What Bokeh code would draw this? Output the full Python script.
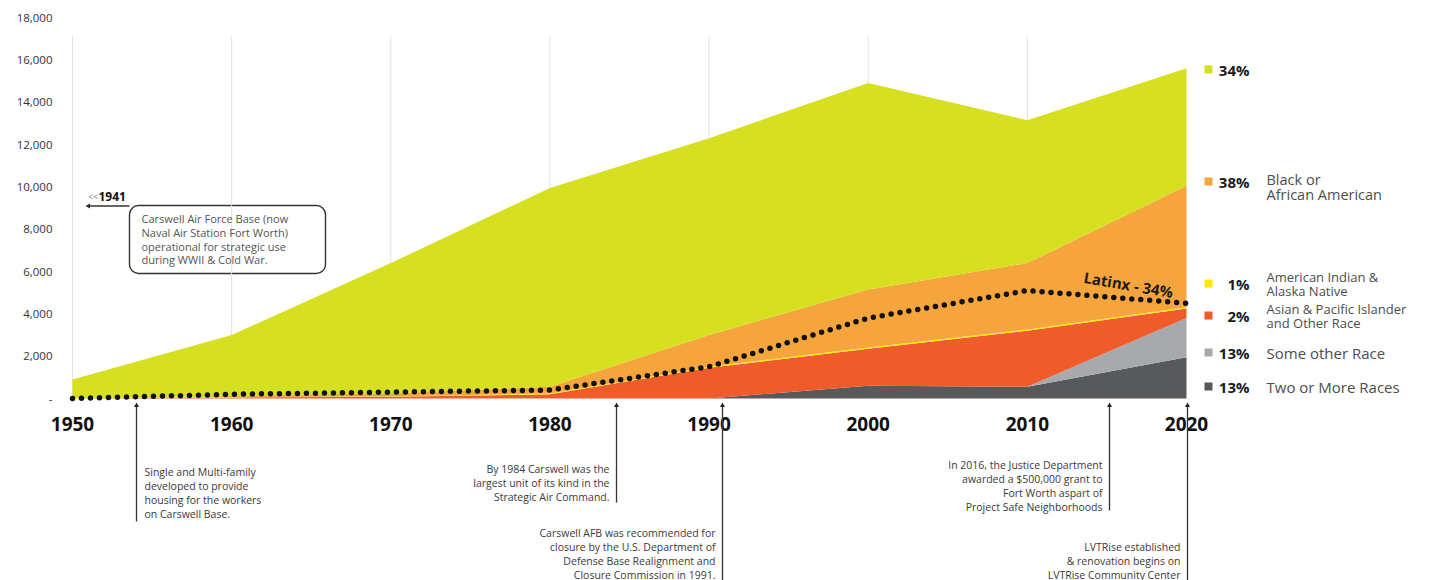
import numpy as np
from bokeh.plotting import figure
from bokeh.models import ColumnDataSource, BoxAnnotation, Range1d
from bokeh.core.properties import value
from bokeh.embed import file_html
from bokeh.resources import INLINE

# ---------------- data ----------------
years = [1950, 1960, 1970, 1980, 1990, 2000, 2010, 2020]
two_or_more = [0, 0, 0, 0, 0, 600, 550, 1950]
some_other = [0, 0, 0, 0, 0, 0, 0, 1850]
asian_other = [0, 50, 80, 200, 1450, 1750, 2650, 450]
american_indian = [0, 20, 20, 40, 50, 60, 60, 60]
black = [0, 50, 150, 310, 1500, 2740, 3140, 5740]
white = [900, 2880, 6150, 9400, 9300, 9750, 6750, 5550]
latinx = [0, 200, 300, 400, 1500, 3800, 5100, 4500]

decades = [1950, 1960, 1970, 1980, 1990, 2000, 2010, 2020]
decade_labels = ["1950", "1960", "1970", "1980", "1990", "2000", "2010", "2020"]
y_ticks = [0, 2000, 4000, 6000, 8000, 10000, 12000, 14000, 16000, 18000]
y_tick_labels = ["-", "2,000", "4,000", "6,000", "8,000", "10,000", "12,000",
                 "14,000", "16,000", "18,000"]

legend_pcts = ["34%", "38%", "1%", "2%", "13%", "13%"]
legend_names = [[], ["Black or", "African American"],
                ["American Indian &", "Alaska Native"],
                ["Asian & Pacific Islander", "and Other Race"],
                ["Some other Race"], ["Two or More Races"]]

# ---------------- styling ----------------
C_WHITE = "#d7df21"
C_BLACK = "#f5a53c"
C_AIAN = "#ffe900"
C_ASIAN = "#ef5b2a"
C_OTHER = "#a7a9ac"
C_TWO = "#58595b"
legend_colors = [C_WHITE, C_BLACK, C_AIAN, C_ASIAN, C_OTHER, C_TWO]

W, H = 1439, 580
KX = (1186 - 72) / 70.0          # px per year
KY = 381.0 / 18000.0             # px per unit


def X(px):
    return 1950 + (px - 72) / KX


def Y(px):
    return (398 - px) / KY


p = figure(width=W, height=H, output_backend="svg", toolbar_location=None,
           x_axis_location=None, y_axis_location=None,
           min_border_left=0, min_border_right=0,
           min_border_top=0, min_border_bottom=0,
           x_range=Range1d(X(0), X(W)), y_range=Range1d(Y(H), Y(0)))
p.outline_line_color = None
p.grid.visible = False
p.background_fill_color = "white"
p.border_fill_color = "white"

# y tick labels (placed on the value scale)
p.text(x=[X(52)] * len(y_ticks), y=y_ticks, text=y_tick_labels,
       text_font=value("Open Sans"), text_font_size="11.5px",
       text_color="#333333", text_align="right", text_baseline="middle")

# vertical grid lines
gx = decades[:-1]
p.segment(x0=gx, x1=gx, y0=[0] * len(gx), y1=[Y(36)] * len(gx),
          line_color="#e2e2e2", line_width=1)

# stacked areas
src = ColumnDataSource(dict(year=years, two=two_or_more, other=some_other,
                            asian=asian_other, aian=american_indian,
                            black=black, white=white))
p.varea_stack(stackers=["two", "other", "asian", "aian", "black", "white"],
              x="year", color=[C_TWO, C_OTHER, C_ASIAN, C_AIAN, C_BLACK, C_WHITE],
              source=src)

# Latinx dotted line
p.line(years, latinx, line_color="#111111", line_width=5.5,
       line_dash="0 9", line_cap="round", line_join="round")
p.text(x=[X(1128)], y=[Y(284)], text=["Latinx - 34%"], angle=-0.17,
       text_font=value("Open Sans"), text_font_style="bold",
       text_font_size="15px", text_color="#1a1a1a",
       text_align="center", text_baseline="middle")

# decade labels
p.text(x=decades, y=[Y(423)] * len(decades), text=decade_labels,
       text_font=value("Open Sans"), text_font_style="bold",
       text_font_size="19px", text_color="#111111",
       text_align="center", text_baseline="middle")

# ---------------- legend on right ----------------
leg_y = [69, 181, 283, 315, 352, 386]
p.scatter(x=[X(1208)] * 6, y=[Y(v) for v in leg_y], marker="square", size=8,
          fill_color=legend_colors, line_color=None)
p.text(x=[X(1249)] * 6, y=[Y(v) for v in leg_y], text=legend_pcts,
       text_font=value("Open Sans"), text_font_style="bold",
       text_font_size="15px", text_color="#1a1a1a",
       text_align="right", text_baseline="middle")
name_x, name_y, name_t, name_s = [], [], [], []
for cy, names in zip(leg_y, legend_names):
    if len(names) == 2:
        off = [-7, 7] if cy > 200 else [-2, 13]
        for o, n in zip(off, names):
            name_x.append(X(1266))
            name_y.append(Y(cy + o))
            name_t.append(n)
            name_s.append("13px" if cy > 200 else "14.5px")
    elif len(names) == 1:
        name_x.append(X(1266))
        name_y.append(Y(cy))
        name_t.append(names[0])
        name_s.append("15px")
p.text(x=name_x, y=name_y, text=name_t, text_font=value("Open Sans"),
       text_font_size=name_s, text_color="#4d4d4d",
       text_align="left", text_baseline="middle")

# ---------------- 1941 callout ----------------
p.add_layout(BoxAnnotation(left=X(129), right=X(325), top=Y(205), bottom=Y(273),
                           border_radius=9, fill_color=None, fill_alpha=0,
                           line_color="#333333", line_alpha=1.0, line_width=1.4,
                           level="underlay"))
p.segment(x0=[X(89)], x1=[X(129)], y0=[Y(205.5)], y1=[Y(205.5)],
          line_color="#333333", line_width=1.4)
p.scatter(x=[X(88)], y=[Y(205.5)], marker="triangle", angle=np.pi / 2,
          size=5, fill_color="#222222", line_color=None)
p.text(x=[X(98)], y=[Y(196)], text=["<<"], text_font=value("Open Sans"),
       text_font_size="9px", text_color="#777777", text_align="right",
       text_baseline="middle")
p.text(x=[X(98)], y=[Y(196)], text=["1941"], text_font=value("Open Sans"),
       text_font_style="bold", text_font_size="12px", text_color="#111111",
       text_align="left", text_baseline="middle")
box_lines = ["Carswell Air Force Base (now", "Naval Air Station Fort Worth)",
             "operational for strategic use", "during WWII & Cold War."]
p.text(x=[X(141)] * 4, y=[Y(v) for v in [218, 232, 246, 259]], text=box_lines,
       text_font=value("Open Sans"), text_font_size="11px",
       text_color="#555555", text_align="left", text_baseline="middle")

# ---------------- timeline notes ----------------
notes = [
    (136, 521, "left", 471, ["Single and Multi-family", "developed to provide",
                             "housing for the workers", "on Carswell Base."]),
    (616, 502, "right", 468, ["By 1984 Carswell was the",
                              "largest unit of its kind in the",
                              "Strategic Air Command."]),
    (722, 580, "right", 532, ["Carswell AFB was recommended for",
                              "closure by the U.S. Department of",
                              "Defense Base Realignment and",
                              "Closure Commission in 1991."]),
    (1109, 510, "right", 464, ["In 2016, the Justice Department",
                               "awarded a $500,000 grant to",
                               "Fort Worth aspart of",
                               "Project Safe Neighborhoods"]),
    (1187, 580, "right", 546, ["LVTRise established",
                               "& renovation begins on",
                               "LVTRise Community Center"]),
]
for lx, bottom, align, ty, lines in notes:
    p.segment(x0=[X(lx)], x1=[X(lx)], y0=[Y(406)], y1=[Y(bottom)],
              line_color="#333333", line_width=1.3)
    p.scatter(x=[X(lx)], y=[Y(405)], marker="triangle", size=5,
              fill_color="#222222", line_color=None)
    tx = lx + 8 if align == "left" else lx - 7
    p.text(x=[X(tx)] * len(lines),
           y=[Y(ty + 14 * i) for i in range(len(lines))], text=lines,
           text_font=value("Open Sans"), text_font_size="10.5px",
           text_color="#3a3a3a", text_align=align, text_baseline="middle")

open("out.html", "w").write(file_html(p, INLINE))
